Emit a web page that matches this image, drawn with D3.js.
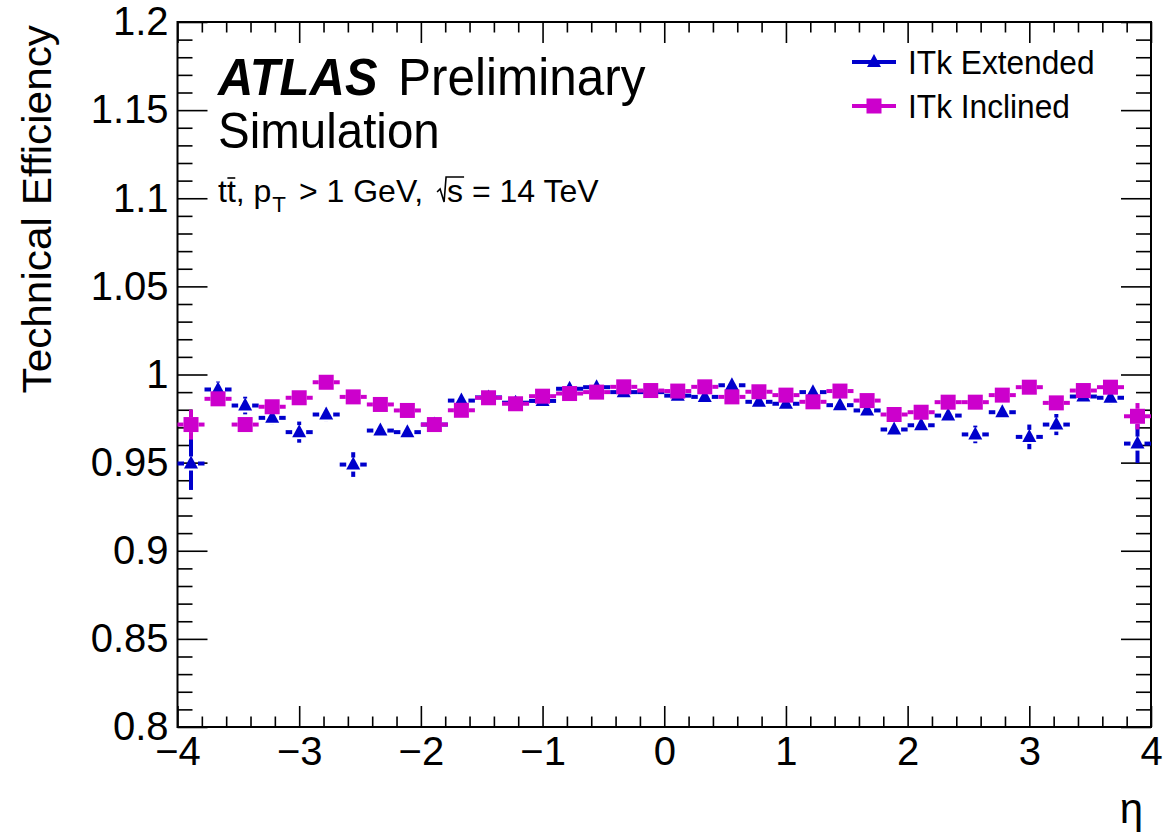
<!DOCTYPE html>
<html><head><meta charset="utf-8">
<script src="https://cdn.jsdelivr.net/npm/d3@7"></script>
<style>
body{margin:0;background:#fff}
svg{display:block}
text{font-family:"Liberation Sans",Arial,Helvetica,sans-serif;fill:#000;white-space:pre}
</style>
</head><body>
<svg id="c" width="1163" height="834"></svg>
<script>
// ---- data ----
const etaCenters = [-3.889,-3.667,-3.444,-3.222,-3.0,-2.778,-2.556,-2.333,-2.111,-1.889,-1.667,-1.444,
  -1.222,-1.0,-0.778,-0.556,-0.333,-0.111,0.111,0.333,0.556,0.778,1.0,1.222,
  1.444,1.667,1.889,2.111,2.333,2.556,2.778,3.0,3.222,3.444,3.667,3.889];
const binHalfWidth = 0.1111;
const extendedEff = [0.9495,0.9915,0.9824,0.9754,0.9673,0.9773,0.9489,0.9682,0.9673,0.9716,0.9852,0.9870,
  0.9840,0.9850,0.9919,0.9928,0.9900,0.9900,0.9880,0.9873,0.9939,0.9845,0.9834,0.9900,
  0.9826,0.9796,0.9688,0.9712,0.9767,0.9660,0.9786,0.9646,0.9716,0.9875,0.9868,0.9608];
const extendedErr = [0.015,0.0045,0.005,0.004,0.006,0.004,0.007,0.003,0.003,0.003,0.003,0.002,
  0.002,0.002,0.002,0.002,0.002,0.002,0.002,0.002,0.002,0.002,0.002,0.002,
  0.002,0.003,0.003,0.003,0.003,0.005,0.004,0.007,0.006,0.003,0.004,0.011];
const inclinedEff = [0.9716,0.9862,0.9716,0.9817,0.9868,0.9956,0.9873,0.9830,0.9796,0.9716,0.9797,0.9868,
  0.9834,0.9877,0.9892,0.9900,0.9930,0.9909,0.9906,0.9930,0.9873,0.9902,0.9883,0.9845,
  0.9906,0.9852,0.9773,0.9786,0.9843,0.9843,0.9883,0.9928,0.9839,0.9909,0.9928,0.9763];
const inclinedErr = [0.0085,0.003,0.003,0.003,0.003,0.003,0.003,0.002,0.002,0.002,0.002,0.002,
  0.002,0.002,0.002,0.002,0.002,0.002,0.002,0.002,0.002,0.002,0.002,0.002,
  0.002,0.002,0.002,0.002,0.002,0.002,0.002,0.003,0.003,0.003,0.003,0.0075];
const seriesNames = ["ITk Extended","ITk Inclined"];
const seriesColors = ["#0000cc","#cc00cc"];
const xMajorTicks = [-4,-3,-2,-1,0,1,2,3,4];
const yMajorTicks = [0.8,0.85,0.9,0.95,1.0,1.05,1.1,1.15,1.2];
const yTickLabels = ["0.8","0.85","0.9","0.95","1","1.05","1.1","1.15","1.2"];
const xTitle = "η";
const yTitle = "Technical Efficiency";

// ---- layout ----
const svg = d3.select("#c");
const FONT = '"Liberation Sans",Arial,Helvetica,sans-serif';
const L = 177.5, R = 1151, T = 22, B = 727;
const x = d3.scaleLinear().domain([-4,4]).range([L,R]);
const y = d3.scaleLinear().domain([0.8,1.2]).range([B,T]);
svg.append("rect").attr("width",1163).attr("height",834).attr("fill","#fff");

const xMinor = d3.range(-4,4.0001,0.2).filter(v=>Math.abs(v-Math.round(v))>1e-6);
const yMinor = d3.range(0.8,1.2001,0.01).filter(v=>Math.abs(v*20-Math.round(v*20))>1e-6);

function tidy(g, fs){
  g.select(".domain").remove();
  g.selectAll("line").attr("stroke","#000").attr("stroke-width",1.6);
  g.attr("font-family",FONT).attr("font-size",fs);
  g.selectAll("text").attr("fill","#000");
}
// bottom
svg.append("g").attr("transform",`translate(0,${B})`)
  .call(d3.axisBottom(x).tickValues(xMajorTicks).tickSize(-21).tickPadding(10).tickFormat(d3.format("")))
  .call(g=>tidy(g,40));
svg.append("g").attr("transform",`translate(0,${B})`)
  .call(d3.axisBottom(x).tickValues(xMinor).tickSize(-10.5).tickFormat(""))
  .call(g=>tidy(g,40));
// top
svg.append("g").attr("transform",`translate(0,${T})`)
  .call(d3.axisTop(x).tickValues(xMajorTicks).tickSize(-21).tickFormat(""))
  .call(g=>tidy(g,40));
svg.append("g").attr("transform",`translate(0,${T})`)
  .call(d3.axisTop(x).tickValues(xMinor).tickSize(-10.5).tickFormat(""))
  .call(g=>tidy(g,40));
// left
svg.append("g").attr("transform",`translate(${L},0)`)
  .call(d3.axisLeft(y).tickValues(yMajorTicks).tickSize(-30).tickPadding(9)
    .tickFormat((d,i)=>yTickLabels[i]))
  .call(g=>tidy(g,40));
svg.append("g").attr("transform",`translate(${L},0)`)
  .call(d3.axisLeft(y).tickValues(yMinor).tickSize(-15).tickFormat(""))
  .call(g=>tidy(g,40));
// right
svg.append("g").attr("transform",`translate(${R},0)`)
  .call(d3.axisRight(y).tickValues(yMajorTicks).tickSize(-30).tickFormat(""))
  .call(g=>tidy(g,40));
svg.append("g").attr("transform",`translate(${R},0)`)
  .call(d3.axisRight(y).tickValues(yMinor).tickSize(-15).tickFormat(""))
  .call(g=>tidy(g,40));

// frame
svg.append("rect").attr("x",L).attr("y",T).attr("width",R-L).attr("height",B-T)
  .attr("fill","none").attr("stroke","#000").attr("stroke-width",2);

// axis titles
svg.append("text").attr("x",1143).attr("y",823).attr("text-anchor","end")
  .attr("font-size",42).text(xTitle);
svg.append("text").attr("transform","translate(51,25) rotate(-90) scale(1.02,1)").attr("text-anchor","end")
  .attr("font-size",41.5).text(yTitle);

// ---- series ----
const triPath = "M0,-8 L7,5 L-7,5 Z";
function drawSeries(vals, errs, color, gap, marker){
  const g = svg.append("g");
  const lw = 4;
  etaCenters.forEach((c,i)=>{
    const cx = x(c), cy = y(vals[i]);
    const xl = x(c-binHalfWidth), xr = x(c+binHalfWidth);
    g.append("line").attr("x1",xl).attr("x2",cx-gap).attr("y1",cy).attr("y2",cy)
      .attr("stroke",color).attr("stroke-width",lw);
    g.append("line").attr("x1",cx+gap).attr("x2",xr).attr("y1",cy).attr("y2",cy)
      .attr("stroke",color).attr("stroke-width",lw);
    const yt = y(vals[i]+errs[i]), yb = y(vals[i]-errs[i]);
    if (yt < cy-gap) g.append("line").attr("x1",cx).attr("x2",cx).attr("y1",yt).attr("y2",cy-gap)
      .attr("stroke",color).attr("stroke-width",lw);
    if (yb > cy+gap) g.append("line").attr("x1",cx).attr("x2",cx).attr("y1",cy+gap).attr("y2",yb)
      .attr("stroke",color).attr("stroke-width",lw);
    marker(g, cx, cy, color);
  });
}
const triMarker = (g,cx,cy,color)=>g.append("path").attr("d",triPath)
  .attr("transform",`translate(${cx},${cy})`).attr("fill",color);
const sqMarker = (g,cx,cy,color)=>g.append("rect").attr("x",cx-7.5).attr("y",cy-7.5)
  .attr("width",15).attr("height",15).attr("fill",color);

drawSeries(extendedEff, extendedErr, seriesColors[0], 7, triMarker);
drawSeries(inclinedEff, inclinedErr, seriesColors[1], 7.5, sqMarker);

// ---- legend ----
const legRows = [62,106];
const markers = [triMarker, sqMarker];
seriesNames.forEach((n,i)=>{
  const ly = legRows[i];
  svg.append("line").attr("x1",852).attr("x2",896).attr("y1",ly).attr("y2",ly)
    .attr("stroke",seriesColors[i]).attr("stroke-width",4);
  markers[i](svg,874,ly,seriesColors[i]);
  svg.append("text").attr("transform",`translate(908,${ly+12}) scale(0.96,1)`)
    .attr("font-size",33).text(n);
});

// ---- ATLAS label ----
function sxText(xp, yp, str, fs, opts={}){
  const sx = opts.sx || 0.95;
  const t = svg.append("text").attr("transform",`translate(${xp},${yp}) scale(${sx},1)`)
    .attr("font-size",fs).text(str);
  if (opts.bold) t.attr("font-weight","bold");
  if (opts.italic) t.attr("font-style","italic");
  return t.node().getComputedTextLength()*sx;
}
sxText(218,95,"ATLAS",51,{bold:true,italic:true,sx:0.96});
sxText(398,95,"Preliminary",51,{sx:0.97});
sxText(218,148,"Simulation",50);

// process line: t t̄, p_T > 1 GeV, √s = 14 TeV
const fs2 = 32, by = 202, o = {sx:1.0};
let cx = 218;
cx += sxText(cx,by,"t",fs2,o);
const tbStart = cx;
cx += sxText(cx,by,"t",fs2,o);
svg.append("line").attr("x1",tbStart+0.5).attr("x2",cx-0.5).attr("y1",by-24).attr("y2",by-24)
  .attr("stroke","#000").attr("stroke-width",1.6);
cx += sxText(cx,by,", p",fs2,o);
cx += sxText(cx+1,by+10,"T",fs2*0.7,o) + 5;
cx += sxText(cx,by," > 1 GeV, ",fs2,o) + 5;
// sqrt sign
const sqX = cx;
svg.append("path").attr("d",`M${sqX},${by-10} L${sqX+3},${by-13} L${sqX+7},${by} L${sqX+9},${by-25} L${sqX+27},${by-25}`)
  .attr("fill","none").attr("stroke","#000").attr("stroke-width",1.6);
cx += 10;
cx += sxText(cx,by,"s",fs2,o);
cx += sxText(cx,by," = 14 TeV",fs2,o);
</script>
</body></html>
